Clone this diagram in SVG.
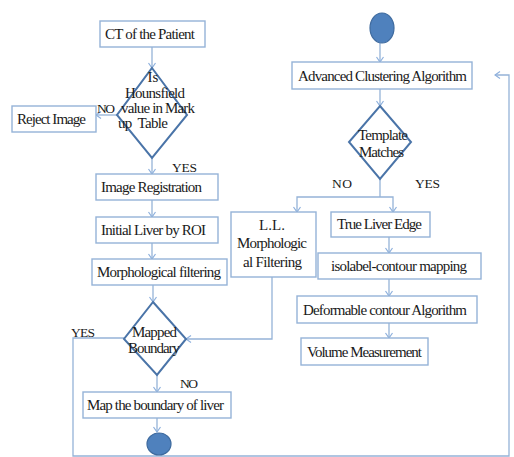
<svg xmlns="http://www.w3.org/2000/svg" width="514" height="457" viewBox="0 0 514 457">
<defs>
<marker id="arr" markerUnits="userSpaceOnUse" markerWidth="10" markerHeight="10" viewBox="0 0 10 10" refX="9" refY="5" orient="auto">
<polyline points="4,1.5 9,5 4,8.5" fill="none" stroke="#8EB0DD" stroke-width="1.2"/>
</marker>
</defs>
<style>
.box{fill:#fff;stroke:#95B3D7;stroke-width:1.4}
.dia{fill:#fff;stroke:#4A74A8;stroke-width:2}
.circ{fill:#4F81BD;stroke:#3E6A9E;stroke-width:1.2}
.con{fill:none;stroke:#95B3D7;stroke-width:1.3}
text{font-family:"Liberation Serif","Times New Roman",serif;font-size:15px;fill:#1a1a1a}
.lbl{font-size:13.5px}
</style>
<rect width="514" height="457" fill="#fff"/>
<g id="connectors">
<line class="con" x1="152" y1="47" x2="152" y2="68" marker-end="url(#arr)"/>
<line class="con" x1="117" y1="115" x2="96" y2="115" marker-end="url(#arr)"/>
<line class="con" x1="152" y1="158" x2="152" y2="174" marker-end="url(#arr)"/>
<line class="con" x1="152" y1="200" x2="152" y2="217" marker-end="url(#arr)"/>
<line class="con" x1="152" y1="243" x2="152" y2="259" marker-end="url(#arr)"/>
<line class="con" x1="153" y1="285" x2="153" y2="302" marker-end="url(#arr)"/>
<line class="con" x1="157" y1="375" x2="157" y2="392" marker-end="url(#arr)"/>
<line class="con" x1="157" y1="418" x2="157" y2="432" marker-end="url(#arr)"/>
<polyline class="con" points="124,338 73,338 73,456 509,456 509,75 495,75" marker-end="url(#arr)"/>
<polyline class="con" points="272,277 272,339 186,339" marker-end="url(#arr)"/>
<line class="con" x1="380" y1="43" x2="380" y2="62" marker-end="url(#arr)"/>
<line class="con" x1="380" y1="89" x2="380" y2="106" marker-end="url(#arr)"/>
<polyline class="con" points="380,179 380,197"/>
<polyline class="con" points="380,197 297,197 297,212" marker-end="url(#arr)"/>
<polyline class="con" points="380,197 393,197 393,212" marker-end="url(#arr)"/>
<line class="con" x1="389" y1="237" x2="389" y2="253" marker-end="url(#arr)"/>
<line class="con" x1="389" y1="279" x2="389" y2="296" marker-end="url(#arr)"/>
<line class="con" x1="389" y1="323" x2="389" y2="338" marker-end="url(#arr)"/>
</g>
<g id="ct">
<rect class="box" x="100" y="21" width="105" height="26"/>
<text x="105" y="39" textLength="90">CT of the Patient</text>
</g>
<g id="hounsfield">
<polygon class="dia" points="152,68 187,115 152,158 117,115"/>
<text x="153" y="82" text-anchor="middle">Is</text>
<text x="125" y="98" textLength="60">Hounsfield</text>
<text x="121" y="113" textLength="74">value in Mark</text>
<text x="118" y="128" textLength="50" xml:space="preserve">up  Table</text>
</g>
<g id="reject">
<rect class="box" x="12" y="106" width="84" height="26"/>
<text x="17" y="124" textLength="69">Reject Image</text>
</g>
<g id="reg">
<rect class="box" x="96" y="174" width="122" height="26"/>
<text x="101" y="192" textLength="101">Image Registration</text>
</g>
<g id="roi">
<rect class="box" x="96" y="217" width="122" height="26"/>
<text x="101" y="235" textLength="105">Initial Liver by ROI</text>
</g>
<g id="morph">
<rect class="box" x="92" y="259" width="135" height="26"/>
<text x="97" y="277" textLength="124">Morphological filtering</text>
</g>
<g id="mapped">
<polygon class="dia" points="153,302 186,339 157,375 124,339"/>
<text x="132" y="337" textLength="45">Mapped</text>
<text x="128" y="353" textLength="52">Boundary</text>
</g>
<g id="mapbox">
<rect class="box" x="83" y="392" width="148" height="26"/>
<text x="87" y="410" textLength="137">Map the boundary of liver</text>
</g>
<g id="end">
<ellipse class="circ" cx="159" cy="444" rx="12" ry="11"/>
</g>
<g id="start">
<ellipse class="circ" cx="382" cy="28" rx="12" ry="15"/>
</g>
<g id="aca">
<rect class="box" x="292" y="62" width="180" height="27"/>
<text x="298" y="81" textLength="169">Advanced Clustering Algorithm</text>
</g>
<g id="template">
<polygon class="dia" points="380,106 411,142 380,179 349,142"/>
<text x="358" y="140" textLength="50">Template</text>
<text x="359" y="157" textLength="45">Matches</text>
</g>
<g id="ll">
<rect class="box" x="231" y="212" width="85" height="65"/>
<text x="272" y="230" text-anchor="middle">L.L.</text>
<text x="237" y="248" textLength="70">Morphologic</text>
<text x="243" y="267" textLength="59">al Filtering</text>
</g>
<g id="tle">
<rect class="box" x="331" y="212" width="99" height="25"/>
<text x="337" y="229" textLength="85">True Liver Edge</text>
</g>
<g id="iso">
<rect class="box" x="318" y="253" width="163" height="26"/>
<text x="331" y="271" textLength="136">isolabel-contour mapping</text>
</g>
<g id="dca">
<rect class="box" x="297" y="296" width="180" height="27"/>
<text x="303" y="315" textLength="164">Deformable contour Algorithm</text>
</g>
<g id="vm">
<rect class="box" x="301" y="338" width="127" height="27"/>
<text x="307" y="357" textLength="115">Volume Measurement</text>
</g>
<g id="labels">
<text class="lbl" x="97" y="113" textLength="18">NO</text>
<text class="lbl" x="172" y="172" textLength="25">YES</text>
<text class="lbl" x="71" y="337" textLength="24">YES</text>
<text class="lbl" x="180" y="388" textLength="18">NO</text>
<text class="lbl" x="332" y="188" textLength="20">NO</text>
<text class="lbl" x="415" y="188" textLength="25">YES</text>
</g>
</svg>
